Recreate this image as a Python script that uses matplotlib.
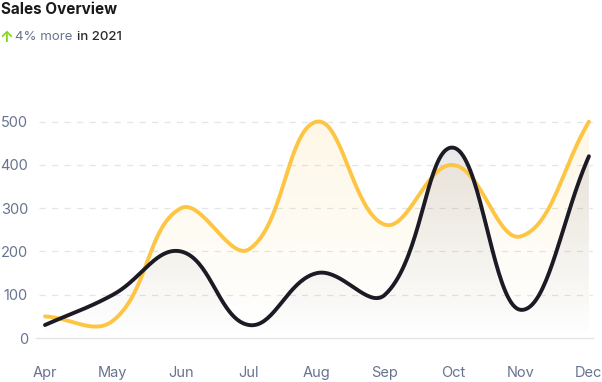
import numpy as np
import matplotlib.pyplot as plt
from matplotlib.patches import PathPatch
from matplotlib.colors import to_rgb

plt.rcParams['font.family'] = ['Inter', 'DejaVu Sans']

months = ["Apr", "May", "Jun", "Jul", "Aug", "Sep", "Oct", "Nov", "Dec"]
mobile_apps = [50, 40, 300, 205, 500, 262, 400, 235, 500]
websites = [30, 100, 200, 30, 150, 100, 440, 65, 420]
y_ticks = [0, 100, 200, 300, 400, 500]

YELLOW = "#fdc543"
DARK = "#1b1a25"
LABEL = "#67748e"
GRID = "#e4e5e8"

W, H = 602, 382
fig = plt.figure(figsize=(W / 100, H / 100), dpi=100)

# chart area in pixels
left, right, top, bottom = 39, 593, 113, 338
ax = fig.add_axes([left / W, 1 - bottom / H, (right - left) / W, (bottom - top) / H])

XMIN, XMAX = -0.088, 8.06
YMAX = 520
ax.set_xlim(XMIN, XMAX)
ax.set_ylim(0, YMAX)

sx = (right - left) / (XMAX - XMIN)
sy = (bottom - top) / YMAX


def smooth(vals, tension=0.4, steps=40):
    # chart.js style bezier spline, computed in pixel space
    px = np.arange(len(vals)) * sx
    py = np.array(vals, dtype=float) * sy
    n = len(px)
    cprev, cnext = [], []
    for i in range(n):
        a = max(i - 1, 0)
        b = min(i + 1, n - 1)
        d01 = np.hypot(px[i] - px[a], py[i] - py[a])
        d12 = np.hypot(px[b] - px[i], py[b] - py[i])
        tot = d01 + d12
        s01 = d01 / tot if tot else 0
        s12 = d12 / tot if tot else 0
        fa, fb = tension * s01, tension * s12
        dx, dy = px[b] - px[a], py[b] - py[a]
        cprev.append((px[i] - fa * dx, py[i] - fa * dy))
        cnext.append((px[i] + fb * dx, py[i] + fb * dy))
    xs, ys = [px[0]], [py[0]]
    t = np.linspace(0, 1, steps)[1:]
    for i in range(n - 1):
        p0 = np.array([px[i], py[i]])
        p1 = np.array(cnext[i])
        p2 = np.array(cprev[i + 1])
        p3 = np.array([px[i + 1], py[i + 1]])
        for tt in t:
            p = ((1 - tt) ** 3) * p0 + 3 * ((1 - tt) ** 2) * tt * p1 + 3 * (1 - tt) * tt ** 2 * p2 + tt ** 3 * p3
            xs.append(p[0])
            ys.append(p[1])
    return np.array(xs) / sx, np.array(ys) / sy


def gradient_fill(x, y, color, alpha_top):
    poly = ax.fill_between(x, y, 0, facecolor="none", edgecolor="none")
    path = poly.get_paths()[0]
    patch = PathPatch(path, facecolor="none", edgecolor="none")
    ax.add_patch(patch)
    r, g, b = to_rgb(color)
    grad = np.zeros((256, 1, 4))
    grad[:, 0, 0] = r
    grad[:, 0, 1] = g
    grad[:, 0, 2] = b
    grad[:, 0, 3] = np.linspace(0, alpha_top, 256)
    im = ax.imshow(grad, extent=[XMIN, XMAX, 0, max(y)], origin="lower",
                   aspect="auto", zorder=1)
    im.set_clip_path(patch)


# grid
for v in y_ticks[1:]:
    ax.axhline(v, color=GRID, lw=0.9, ls=(0, (5, 5)), zorder=0)
ax.plot([-0.13, XMAX], [0, 0], color=GRID, lw=1, zorder=0, clip_on=False)

x = np.arange(len(months))
mx, my = smooth(mobile_apps)
wx, wy = smooth(websites)

gradient_fill(mx, my, YELLOW, 0.13)
gradient_fill(wx, wy, "#2a2d45", 0.11)

ax.plot(mx, my, color=YELLOW, lw=2.8, zorder=3, clip_on=False, solid_capstyle="round")
ax.plot(wx, wy, color=DARK, lw=2.8, zorder=4, clip_on=False, solid_capstyle="round")

for s in ax.spines.values():
    s.set_visible(False)
ax.set_yticks(y_ticks)
ax.set_yticklabels([str(v) for v in y_ticks])
ax.set_xticks(x)
ax.set_xticklabels(months)
ax.tick_params(axis="y", length=0, pad=8, labelsize=10.5, labelcolor=LABEL)
ax.tick_params(axis="x", length=0, pad=20, labelsize=10.5, labelcolor=LABEL)

fig.text(1 / W, 1 - 9 / H, "Sales Overview", fontsize=11, fontweight="bold",
         color="#1a1a1a", va="center", ha="left")
fig.text(0 / W, 1 - 37 / H, "\u2191", fontsize=11, fontweight="bold",
         color="#82d616", va="center", ha="left")
fig.text(15 / W, 1 - 37 / H, "4% more", fontsize=9.5, color=LABEL, va="center", ha="left")
fig.text(77 / W, 1 - 37 / H, "in 2021", fontsize=9.5, color="#2a2a2a",
         fontweight="medium", va="center", ha="left")

fig.savefig("out.png", dpi=100)
